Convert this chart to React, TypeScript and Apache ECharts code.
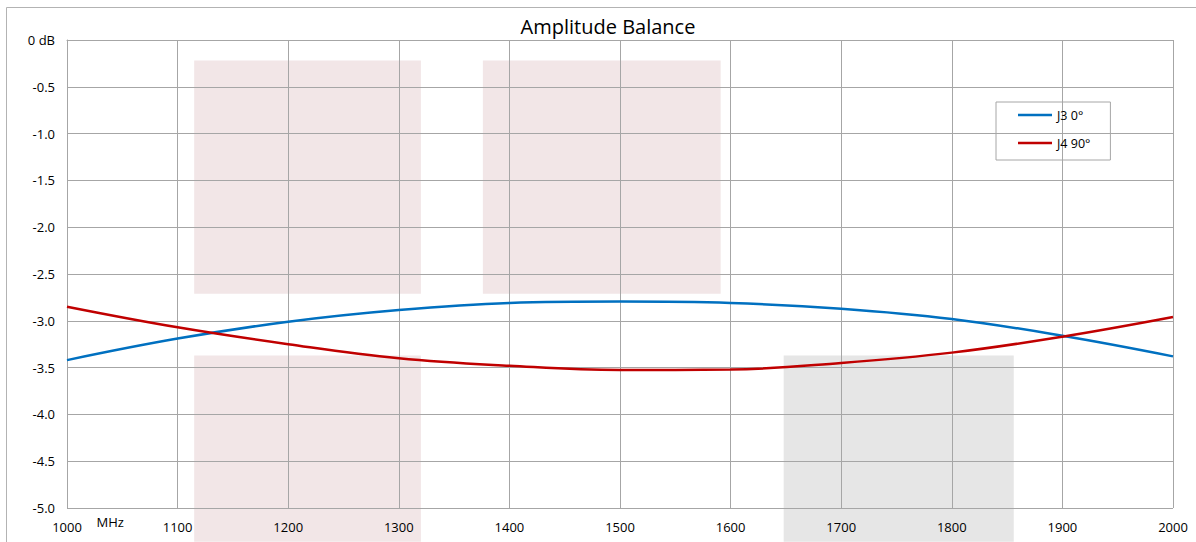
import React, { useEffect, useRef } from "react";
import * as echarts from "echarts";

const freqs = [1000, 1100, 1200, 1300, 1400, 1500, 1600, 1700, 1800, 1900, 2000];
const j3 = [-3.42, -3.19, -3.01, -2.885, -2.81, -2.795, -2.81, -2.87, -2.98, -3.16, -3.38];
const j4 = [-2.85, -3.07, -3.25, -3.4, -3.48, -3.525, -3.52, -3.45, -3.34, -3.17, -2.96];
const xTicks = [1000, 1100, 1200, 1300, 1400, 1500, 1600, 1700, 1800, 1900, 2000];
const yTicks = [0, -0.5, -1, -1.5, -2, -2.5, -3, -3.5, -4, -4.5, -5];

// shaded bands: [x0, x1, yTop, yBottom, kind]
const bandX0 = [1115, 1115, 1376, 1648];
const bandX1 = [1320, 1320, 1591, 1856];
const bandYTop = [-0.22, -3.37, -0.22, -3.37];
const bandYBottom = [-2.71, -5.36, -2.71, -5.36];
const bandKind = ["pink", "pink", "pink", "gray"];

const FONT = "'Open Sans', sans-serif";

export default function App() {
  const ref = useRef<HTMLDivElement>(null);
  useEffect(() => {
    document.body.style.margin = "0";
    const chart = echarts.init(ref.current!, null, { renderer: "svg" });
    const option: any = {
      animation: false,
      backgroundColor: "#ffffff",
      textStyle: { fontFamily: FONT },
      title: {
        text: "Amplitude Balance",
        left: 603,
        textAlign: "center",
        top: 11,
        textStyle: { fontFamily: FONT, fontSize: 20, fontWeight: "normal", color: "#000" },
      },
      grid: { left: 67, right: 23, top: 40, bottom: 34 },
      legend: {
        orient: "vertical",
        left: 996,
        top: 102,
        padding: [6, 20, 10, 22],
        icon: "rect",
        itemWidth: 34,
        itemHeight: 2.5,
        itemGap: 14,
        borderColor: "#a6a6a6",
        borderWidth: 1,
        textStyle: { fontFamily: FONT, fontSize: 12.5, color: "#000", lineHeight: 14 },
        data: ["J3 0°", "J4 90°"],
      },
      xAxis: {
        type: "value",
        min: 1000,
        max: 2000,
        interval: 100,
        axisLine: { show: true, lineStyle: { color: "#a6a6a6", width: 1 } },
        axisTick: { show: false },
        splitLine: { show: true, lineStyle: { color: "#a6a6a6", width: 1 } },
        axisLabel: {
          fontFamily: FONT,
          fontSize: 13,
          color: "#000",
          margin: 12,
          formatter: (v: number) => (xTicks.includes(v) ? String(v) : ""),
        },
      },
      yAxis: {
        type: "value",
        min: -5,
        max: 0,
        interval: 0.5,
        axisLine: { show: true, lineStyle: { color: "#a6a6a6", width: 1 } },
        axisTick: { show: false },
        splitLine: { show: true, lineStyle: { color: "#a6a6a6", width: 1 } },
        axisLabel: {
          fontFamily: FONT,
          fontSize: 13,
          color: "#000",
          margin: 12,
          formatter: (v: number) => {
            const t = yTicks.find((y) => Math.abs(y - v) < 1e-6);
            if (t === undefined) return "";
            return t === 0 ? "0 dB" : t.toFixed(1);
          },
        },
      },
      series: [
        {
          name: "J3 0°",
          type: "line",
          data: freqs.map((f, i) => [f, j3[i]]),
          smooth: 0.4,
          symbol: "none",
          lineStyle: { color: "#0070c0", width: 2.5 },
          itemStyle: { color: "#0070c0" },
          z: 5,
        },
        {
          name: "J4 90°",
          type: "line",
          data: freqs.map((f, i) => [f, j4[i]]),
          smooth: 0.4,
          symbol: "none",
          lineStyle: { color: "#c00000", width: 2.5 },
          itemStyle: { color: "#c00000" },
          z: 5,
        },
      ],
    };
    chart.setOption(option);

    const rects: any[] = bandX0.map((x0, i) => {
      const p0 = chart.convertToPixel({ xAxisIndex: 0, yAxisIndex: 0 }, [x0, bandYTop[i]]) as number[];
      const p1 = chart.convertToPixel({ xAxisIndex: 0, yAxisIndex: 0 }, [bandX1[i], bandYBottom[i]]) as number[];
      return {
        type: "rect",
        z: -1,
        silent: true,
        shape: { x: p0[0], y: p0[1], width: p1[0] - p0[0], height: p1[1] - p0[1] },
        style: { fill: bandKind[i] === "pink" ? "#f2e6e7" : "#e6e6e6" },
      };
    });
    const mhz = chart.convertToPixel({ xAxisIndex: 0, yAxisIndex: 0 }, [1039, -5]) as number[];
    chart.setOption({
      graphic: [
        {
          type: "rect",
          z: -2,
          silent: true,
          shape: { x: 6.5, y: 7.5, width: 1300, height: 700 },
          style: { fill: "none", stroke: "#b3b3b3", lineWidth: 1 },
        },
        ...rects,
        {
          type: "text",
          x: mhz[0],
          y: mhz[1] + 14,
          style: { text: "MHz", fill: "#000", font: `13px ${FONT}`, textAlign: "center", textVerticalAlign: "middle" },
        },
      ],
    });
    return () => chart.dispose();
  }, []);
  return <div ref={ref} style={{ width: 1196, height: 542 }} />;
}
